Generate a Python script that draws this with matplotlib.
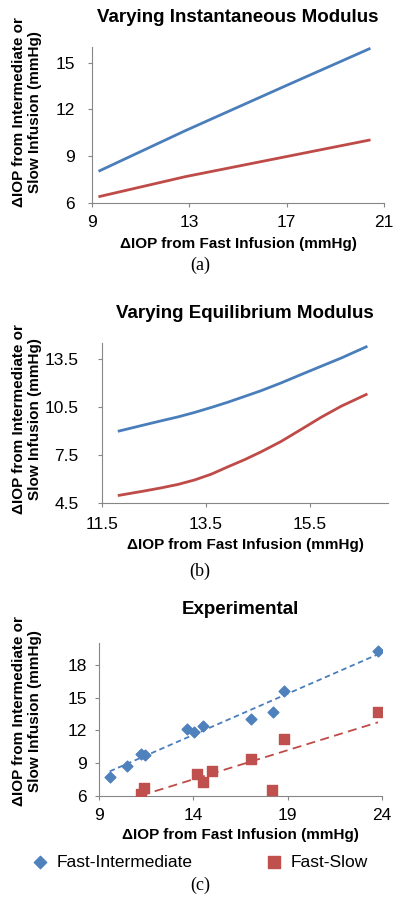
import numpy as np
import matplotlib.pyplot as plt

# ---------- data

# (a) varying instantaneous modulus
a_x = [9.32, 12.84, 16.97, 20.39]
a_int = [8.07, 10.64, 13.52, 15.88]
a_slow = [6.42, 7.69, 8.97, 10.03]

# (b) varying equilibrium modulus
b_x = [11.83, 12.31, 12.63, 12.96, 13.28, 13.6, 13.92, 14.25, 14.56, 14.94, 15.33, 15.71, 16.1, 16.58]
b_int = [9.0, 9.38, 9.63, 9.88, 10.16, 10.47, 10.8, 11.17, 11.52, 12.0, 12.53, 13.04, 13.56, 14.26]
b_slow = [4.98, 5.25, 5.44, 5.66, 5.94, 6.3, 6.76, 7.22, 7.7, 8.34, 9.1, 9.85, 10.55, 11.28]

# (c) experimental
c_fi_x = [9.57, 10.51, 11.2, 11.43, 13.68, 14.04, 14.5, 17.05, 18.22, 18.8, 23.79]
c_fi_y = [7.74, 8.75, 9.83, 9.73, 12.12, 11.85, 12.43, 13.07, 13.71, 15.64, 19.28]
c_fs_x = [11.22, 11.39, 14.18, 14.53, 15.0, 17.05, 18.17, 18.8, 23.79]
c_fs_y = [6.21, 6.77, 7.99, 7.29, 8.3, 9.37, 6.58, 11.17, 13.71]

BLUE = '#4A7EBB'
RED = '#BE4B48'
GRID = '#868686'

W, H = 400, 909
plt.rcParams['font.family'] = ['Liberation Sans', 'DejaVu Sans']

fig = plt.figure(figsize=(W/100, H/100), dpi=100)

def make_ax(left, top, right, bottom, xpad, ypad):
	ax = fig.add_axes([left/W, 1-bottom/H, (right-left)/W, (bottom-top)/H])
	for s in ['top', 'right']:
		ax.spines[s].set_visible(False)
	for s in ['left', 'bottom']:
		ax.spines[s].set_color(GRID)
		ax.spines[s].set_linewidth(0.8)
	ax.tick_params(direction='out', length=3, width=0.8, color=GRID, labelsize=12.5)
	ax.tick_params(axis='x', pad=xpad)
	ax.tick_params(axis='y', pad=ypad)
	return ax

def labels(ax, title, ty, xy, ly, cap, cy):
	pos = ax.get_position()
	cx = (pos.x0 + pos.x1)/2
	fig.text(cx, 1-ty/H, title, ha='center', va='center', fontsize=13.5, fontweight='bold')
	fig.text(cx, 1-xy/H, 'ΔIOP from Fast Infusion (mmHg)', ha='center', va='center', fontsize=11, fontweight='bold')
	fig.text(27/W, 1-ly/H,
		'ΔIOP from Intermediate or\nSlow Infusion (mmHg)', rotation=90, ha='center', va='center',
		fontsize=11, fontweight='bold', linespacing=1.2)
	fig.text(0.5, 1-cy/H, cap, ha='center', va='center', fontsize=13, family='Liberation Serif')

# ---------- (a)
ax = make_ax(92, 47, 384, 203, 5.6, 9.2)
ax.plot(a_x, a_int, color=BLUE, lw=2)
ax.plot(a_x, a_slow, color=RED, lw=2)
ax.set_xlim(9, 21)
ax.set_ylim(6, 16)
ax.set_xticks([9, 13, 17, 21])
ax.set_yticks([6, 9, 12, 15])
labels(ax, 'Varying Instantaneous Modulus', 18, 244, 112, '(a)', 265)

# ---------- (b)
ax = make_ax(102, 343, 388, 503, 7, 14)
ax.plot(b_x, b_int, color=BLUE, lw=2)
ax.plot(b_x, b_slow, color=RED, lw=2)
ax.set_xlim(11.5, 17.0)
ax.set_ylim(4.5, 14.5)
ax.set_xticks([11.5, 13.5, 15.5])
ax.set_yticks([4.5, 7.5, 10.5, 13.5])
ax.set_xticklabels(['11.5', '13.5', '15.5'])
ax.set_yticklabels(['4.5', '7.5', '10.5', '13.5'])
labels(ax, 'Varying Equilibrium Modulus', 313, 545, 419, '(b)', 571)

# ---------- (c)
ax = make_ax(99, 643, 382, 796, 5.6, 5.6)
ax.scatter(c_fi_x, c_fi_y, marker='D', s=30, color='#4F81BD', label='Fast-Intermediate', zorder=3)
ax.scatter(c_fs_x, c_fs_y, marker='s', s=55, color='#C0504D', label='Fast-Slow', zorder=3)
p1 = np.polyfit(c_fi_x, c_fi_y, 1)
p2 = np.polyfit(c_fs_x, c_fs_y, 1)
xx1 = np.array([min(c_fi_x), max(c_fi_x)])
xx2 = np.array([min(c_fs_x), max(c_fs_x)])
ax.plot(xx1, np.polyval(p1, xx1), '--', color=BLUE, lw=1.3, dashes=(3, 2))
ax.plot(xx2, np.polyval(p2, xx2), '--', color=RED, lw=1.3, dashes=(5, 3))
ax.set_xlim(9, 24)
ax.set_ylim(6, 20)
ax.set_xticks([9, 14, 19, 24])
ax.set_yticks([6, 9, 12, 15, 18])
labels(ax, 'Experimental', 610, 835, 711, '(c)', 885)
ax.legend(loc='center', bbox_to_anchor=(0.5, 1-862/H), bbox_transform=fig.transFigure,
	ncol=2, frameon=False, fontsize=12.5, columnspacing=4.2, handletextpad=0.5,
	handlelength=0.9, markerscale=1.15)

plt.savefig('out.png', dpi=100)
